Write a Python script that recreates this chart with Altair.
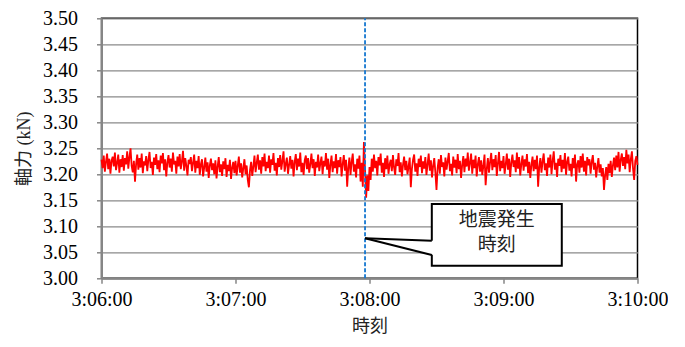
import altair as alt
import pandas as pd

axial_force_kN = [
    3.228, 3.212, 3.236, 3.205, 3.224, 3.240, 3.210, 3.230, 3.201, 3.226,
    3.234, 3.215, 3.242, 3.208, 3.222, 3.238, 3.203, 3.229, 3.214, 3.237,
    3.207, 3.231, 3.219, 3.244, 3.211, 3.233, 3.250, 3.216, 3.204, 3.226,
    3.186, 3.220, 3.238, 3.209, 3.231, 3.213, 3.240, 3.202, 3.225, 3.217,
    3.235, 3.206, 3.228, 3.243, 3.212, 3.224, 3.199, 3.232, 3.218, 3.239,
    3.210, 3.227, 3.204, 3.236, 3.221, 3.241, 3.208, 3.229, 3.196, 3.223,
    3.237, 3.213, 3.230, 3.205, 3.242, 3.219, 3.226, 3.201, 3.234, 3.215,
    3.239, 3.210, 3.225, 3.245, 3.207, 3.231, 3.216, 3.198, 3.228, 3.220,
    3.233, 3.206, 3.222, 3.238, 3.203, 3.226, 3.212, 3.235, 3.199, 3.219,
    3.229, 3.196, 3.214, 3.232, 3.205, 3.223, 3.193, 3.217, 3.230, 3.208,
    3.221, 3.200, 3.227, 3.192, 3.215, 3.233, 3.204, 3.219, 3.197, 3.225,
    3.210, 3.231, 3.195, 3.218, 3.206, 3.228, 3.191, 3.213, 3.224, 3.202,
    3.226, 3.198, 3.216, 3.234, 3.203, 3.221, 3.194, 3.212, 3.229, 3.200,
    3.217, 3.189, 3.175, 3.208, 3.224, 3.197, 3.215, 3.236, 3.204, 3.222,
    3.238, 3.209, 3.227, 3.201, 3.233, 3.215, 3.240, 3.206, 3.224, 3.212,
    3.236, 3.203, 3.229, 3.218, 3.241, 3.207, 3.222, 3.198, 3.231, 3.214,
    3.237, 3.209, 3.226, 3.244, 3.205, 3.220, 3.232, 3.201, 3.218, 3.235,
    3.211, 3.228, 3.196, 3.224, 3.239, 3.208, 3.230, 3.215, 3.242, 3.204,
    3.222, 3.199, 3.227, 3.236, 3.210, 3.231, 3.203, 3.219, 3.240, 3.212,
    3.229, 3.197, 3.224, 3.213, 3.238, 3.206, 3.221, 3.234, 3.200, 3.226,
    3.215, 3.241, 3.209, 3.230, 3.193, 3.218, 3.236, 3.204, 3.225, 3.212,
    3.239, 3.201, 3.227, 3.214, 3.233, 3.196, 3.220, 3.237, 3.207, 3.228,
    3.176, 3.213, 3.232, 3.199, 3.224, 3.240, 3.205, 3.219, 3.194, 3.230,
    3.211, 3.236, 3.186, 3.222, 3.176, 3.262, 3.210, 3.155, 3.198, 3.168,
    3.214, 3.189, 3.230, 3.205, 3.238, 3.212, 3.226, 3.198, 3.233, 3.217,
    3.240, 3.203, 3.222, 3.195, 3.231, 3.210, 3.236, 3.201, 3.219, 3.228,
    3.206, 3.237, 3.213, 3.199, 3.229, 3.216, 3.241, 3.204, 3.223, 3.196,
    3.218, 3.234, 3.208, 3.226, 3.200, 3.215, 3.232, 3.175, 3.211, 3.228,
    3.238, 3.205, 3.221, 3.197, 3.230, 3.214, 3.236, 3.202, 3.225, 3.211,
    3.233, 3.199, 3.219, 3.240, 3.207, 3.227, 3.194, 3.216, 3.231, 3.203,
    3.170, 3.212, 3.229, 3.201, 3.237, 3.214, 3.223, 3.196, 3.232, 3.209,
    3.225, 3.241, 3.206, 3.220, 3.198, 3.234, 3.213, 3.228, 3.202, 3.239,
    3.210, 3.226, 3.193, 3.218, 3.235, 3.204, 3.230, 3.215, 3.242, 3.207,
    3.222, 3.240, 3.201, 3.228, 3.212, 3.236, 3.196, 3.219, 3.233, 3.205,
    3.227, 3.199, 3.216, 3.238, 3.179, 3.210, 3.231, 3.203, 3.224, 3.241,
    3.208, 3.229, 3.214, 3.237, 3.197, 3.221, 3.243, 3.206, 3.226, 3.212,
    3.235, 3.201, 3.219, 3.240, 3.209, 3.230, 3.195, 3.223, 3.238, 3.214,
    3.227, 3.204, 3.242, 3.211, 3.233, 3.198, 3.220, 3.236, 3.207, 3.229,
    3.215, 3.239, 3.202, 3.224, 3.193, 3.218, 3.234, 3.206, 3.228, 3.210,
    3.236, 3.176, 3.214, 3.231, 3.203, 3.225, 3.240, 3.208, 3.221, 3.197,
    3.232, 3.213, 3.238, 3.200, 3.226, 3.244, 3.209, 3.222, 3.195, 3.230,
    3.216, 3.237, 3.204, 3.228, 3.211, 3.241, 3.199, 3.224, 3.234, 3.207,
    3.220, 3.196, 3.231, 3.212, 3.238, 3.186, 3.219, 3.227, 3.203, 3.235,
    3.213, 3.240, 3.205, 3.226, 3.198, 3.233, 3.217, 3.229, 3.201, 3.224,
    3.237, 3.209, 3.222, 3.194, 3.215, 3.231, 3.203, 3.219, 3.196, 3.212,
    3.170, 3.198, 3.214, 3.189, 3.220, 3.202, 3.226, 3.195, 3.217, 3.232,
    3.208, 3.236, 3.213, 3.243, 3.205, 3.228, 3.240, 3.216, 3.233, 3.210,
    3.247, 3.221, 3.238, 3.204, 3.229, 3.244, 3.211, 3.189, 3.226, 3.235,
    3.218,
]
sample_step_s = 0.5
time_s = [i * sample_step_s for i in range(len(axial_force_kN))]

x_tick_values = [0, 60, 120, 180, 240]
x_tick_labels = ["3:06:00", "3:07:00", "3:08:00", "3:09:00", "3:10:00"]
y_tick_values = [3.00, 3.05, 3.10, 3.15, 3.20, 3.25, 3.30, 3.35, 3.40, 3.45, 3.50]

quake_time_s = 118
callout_lines = ["地震発生", "時刻"]

# callout geometry (data coordinates)
box = pd.DataFrame({"t": [147.9], "t2": [206.1], "v": [3.143], "v2": [3.024]})
tip_t, tip_v = 118.0, 3.077
base_t, base_v1, base_v2 = 147.9, 3.0723, 3.0448
pointer_fill = pd.DataFrame({"t": [tip_t, base_t + 0.8], "v": [tip_v, base_v1], "v2": [tip_v, base_v2]})
pointer_lines = pd.DataFrame({"t": [tip_t, tip_t], "v": [tip_v, tip_v],
                              "t2": [base_t, base_t], "v2": [base_v1, base_v2]})
callout_text = pd.DataFrame({"t": [177.0, 177.0], "v": [3.112, 3.064], "label": callout_lines})
quake_df = pd.DataFrame({"t": [quake_time_s, quake_time_s], "v": [3.0, 3.5]})

df = pd.DataFrame({"t": time_s, "v": axial_force_kN})

label_js = "[" + ",".join("'" + s + "'" for s in x_tick_labels) + "]"
xscale = alt.Scale(domain=[0, 240], nice=False, zero=False)
yscale = alt.Scale(domain=[3.0, 3.5], nice=False, zero=False)

SERIF = "Times New Roman, Liberation Serif, Tinos, DejaVu Serif, serif"
MIXED = "Times New Roman, Liberation Serif, Tinos, Noto Sans CJK JP, serif"

common_axis = dict(
    domainColor="#868686", domainWidth=2, tickColor="#868686", tickWidth=1.5, tickSize=5,
    labelFont=SERIF, labelFontSize=20, labelColor="black",
    titleFont=MIXED, titleFontSize=18, titleFontWeight="normal", titleColor="#222222",
    labelOverlap=False,
)
x_axis = alt.Axis(
    values=x_tick_values, labelExpr=label_js + "[round(datum.value/60)]",
    title="時刻", grid=False, labelPadding=6, titlePadding=8,
    labelFlush=False, **common_axis)
y_axis = alt.Axis(
    values=y_tick_values, format=".2f", title="軸力 (kN)", grid=True,
    gridColor="#8a8a8a", gridWidth=1.3,
    labelPadding=19, titlePadding=9, **common_axis)

X = alt.X("t:Q", scale=xscale, axis=x_axis)
Y = alt.Y("v:Q", scale=yscale, axis=y_axis)

line = alt.Chart(df).mark_line(color="#ff0000", strokeWidth=1.8).encode(x=X, y=Y)

quake = alt.Chart(quake_df).mark_line(
    color="#1577d0", strokeWidth=1.8, strokeDash=[4, 2]
).encode(x=X, y=Y)

rect = alt.Chart(box).mark_rect(fill="white", stroke="black", strokeWidth=2).encode(
    x=X, x2="t2", y=Y, y2="v2")

tri = alt.Chart(pointer_fill).mark_area(color="white", opacity=1).encode(
    x=X, y=Y, y2="v2")

plines = alt.Chart(pointer_lines).mark_rule(color="black", strokeWidth=2).encode(
    x=X, x2="t2", y=Y, y2="v2")

txt = alt.Chart(callout_text).mark_text(
    font="Noto Sans CJK JP", fontSize=19, color="#222222", baseline="middle", align="center"
).encode(x=X, y=Y, text="label:N")

chart = alt.layer(line, quake, rect, tri, plines, txt).properties(
    width=536, height=260,
    autosize=alt.AutoSizeParams(type="none"),
    padding={"left": 93.5, "top": 10.3, "right": 30, "bottom": 60},
).configure_view(
    stroke="black", strokeWidth=1.5
).configure_axis(
    labelFont=SERIF, labelFontSize=20, titleFont=MIXED
)

chart.save("out.html", embed_options={"renderer": "svg", "actions": False})
